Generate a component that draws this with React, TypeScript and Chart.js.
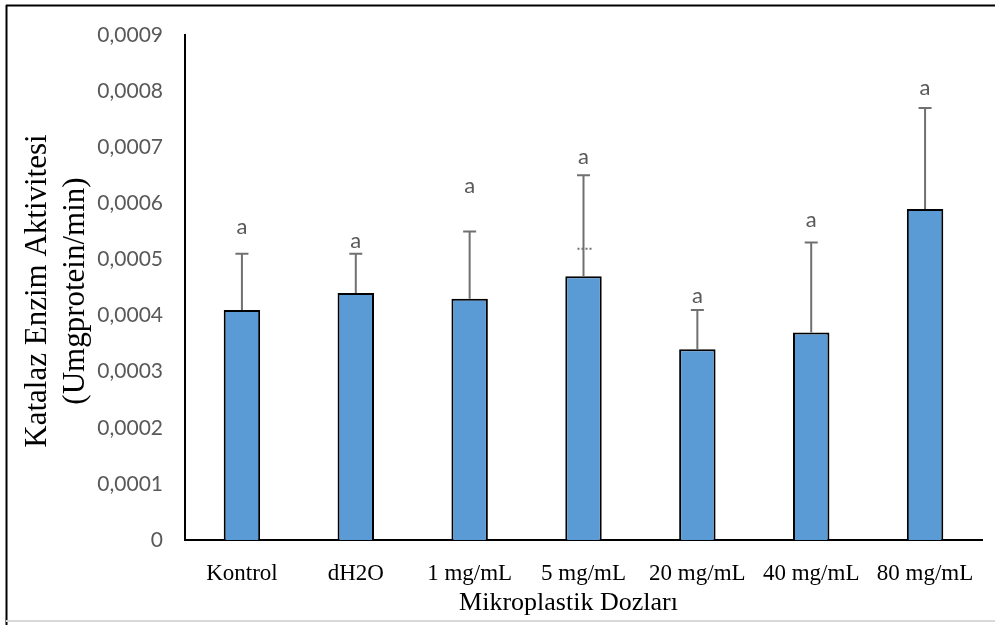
import React, { useEffect, useRef } from "react";
import { Chart, registerables } from "chart.js";

Chart.register(...registerables);

const categories = ["Kontrol", "dH2O", "1 mg/mL", "5 mg/mL", "20 mg/mL", "40 mg/mL", "80 mg/mL"];
const means = [0.00041, 0.00044, 0.00043, 0.00047, 0.00034, 0.00037, 0.00059];
const errors = [0.0001, 0.00007, 0.00012, 0.00018, 0.00007, 0.00016, 0.00018];
const letters = ["a", "a", "a", "a", "a", "a", "a"];
const letterHeights = [0.000558, 0.000533, 0.000631, 0.000683, 0.000435, 0.00057, 0.000806];
const dotMarks = [null, null, null, 0.000519, null, null, null];
const yTitle = ["Katalaz Enzim Aktivitesi", "(Umgprotein/min)"];
const xTitle = "Mikroplastik Dozları";

const W = 995;
const H = 625;

const decor = {
  id: "decor",
  beforeDraw(chart: any) {
    const ctx = chart.ctx;
    ctx.save();
    ctx.fillStyle = "#fff";
    ctx.fillRect(0, 0, W, H);
    ctx.strokeStyle = "#000";
    ctx.lineWidth = 2;
    ctx.beginPath();
    ctx.moveTo(6, 5.5);
    ctx.lineTo(W, 5.5);
    ctx.moveTo(6.5, 5);
    ctx.lineTo(6.5, H);
    ctx.stroke();
    ctx.strokeStyle = "#d9d9d9";
    ctx.beginPath();
    ctx.moveTo(6, 621);
    ctx.lineTo(W, 621);
    ctx.stroke();
    ctx.restore();
  },
  afterDatasetsDraw(chart: any) {
    const ctx = chart.ctx;
    const y = chart.scales.y;
    const meta = chart.getDatasetMeta(0);
    ctx.save();
    meta.data.forEach((el: any, i: number) => {
      const x = el.x;
      const top = y.getPixelForValue(means[i] + errors[i]);
      ctx.strokeStyle = "#707070";
      ctx.lineWidth = 2;
      ctx.beginPath();
      ctx.moveTo(x, el.y);
      ctx.lineTo(x, top);
      ctx.moveTo(x - 6.5, top);
      ctx.lineTo(x + 6.5, top);
      ctx.stroke();
      const d = dotMarks[i];
      if (d !== null) {
        const dy = y.getPixelForValue(d);
        ctx.setLineDash([2, 2]);
        ctx.beginPath();
        ctx.moveTo(x - 6, dy);
        ctx.lineTo(x + 8, dy);
        ctx.stroke();
        ctx.setLineDash([]);
      }
      ctx.fillStyle = "#595959";
      ctx.font = "22px Lato";
      ctx.textAlign = "center";
      ctx.textBaseline = "middle";
      ctx.fillText(letters[i], x, y.getPixelForValue(letterHeights[i]));
    });
    ctx.restore();
  },
  afterDraw(chart: any) {
    const ctx = chart.ctx;
    const area = chart.chartArea;
    ctx.save();
    ctx.fillStyle = "#000";
    ctx.font = "31px 'Liberation Serif'";
    ctx.textAlign = "center";
    ctx.textBaseline = "middle";
    const cy = 291;
    ctx.translate(0, cy);
    ctx.rotate(-Math.PI / 2);
    ctx.fillText(yTitle[0], 0, 38);
    ctx.fillText(yTitle[1], 0, 76);
    ctx.restore();
    ctx.save();
    ctx.fillStyle = "#000";
    ctx.font = "26px 'Liberation Serif'";
    ctx.textAlign = "center";
    ctx.textBaseline = "alphabetic";
    ctx.fillText(xTitle, (area.left + area.right) / 2 - 15, 610);
    ctx.restore();
  },
};

export default function App() {
  const ref = useRef<HTMLCanvasElement>(null);
  useEffect(() => {
    if (!ref.current) return;
    const chart = new Chart(ref.current, {
      type: "bar",
      data: {
        labels: categories,
        datasets: [
          {
            data: means,
            backgroundColor: "#5B9BD5",
            borderColor: "#000",
            borderWidth: 2,
            barPercentage: 0.32,
            categoryPercentage: 1,
          },
        ],
      },
      options: {
        responsive: false,
        animation: false,
        devicePixelRatio: 1,
        layout: { padding: { top: 35, right: 13, bottom: 0, left: 0 } },
        plugins: { legend: { display: false }, tooltip: { enabled: false } },
        scales: {
          x: {
            grid: { display: false, drawTicks: false },
            border: { display: true, color: "#000", width: 2 },
            ticks: {
              color: "#000",
              font: { family: "'Liberation Serif'", size: 23 },
              padding: 20,
              maxRotation: 0,
              autoSkip: false,
            },
            afterFit(scale: any) {
              scale.height = 85;
            },
          },
          y: {
            min: 0,
            max: 0.0009,
            grid: { display: false, drawTicks: false },
            border: { display: true, color: "#000", width: 2 },
            ticks: {
              stepSize: 0.0001,
              color: "#595959",
              font: { family: "Lato", size: 21 },
              padding: 22,
              callback: (v: any) => (Number(v) === 0 ? "0" : Number(v).toFixed(4).replace(".", ",")),
            },
            afterFit(scale: any) {
              scale.width = 185;
            },
          },
        },
      },
      plugins: [decor],
    });
    return () => chart.destroy();
  }, []);
  return (
    <div style={{ position: "absolute", left: 0, top: 0, width: W, height: H }}>
      <canvas ref={ref} width={W} height={H} style={{ display: "block" }} />
    </div>
  );
}
